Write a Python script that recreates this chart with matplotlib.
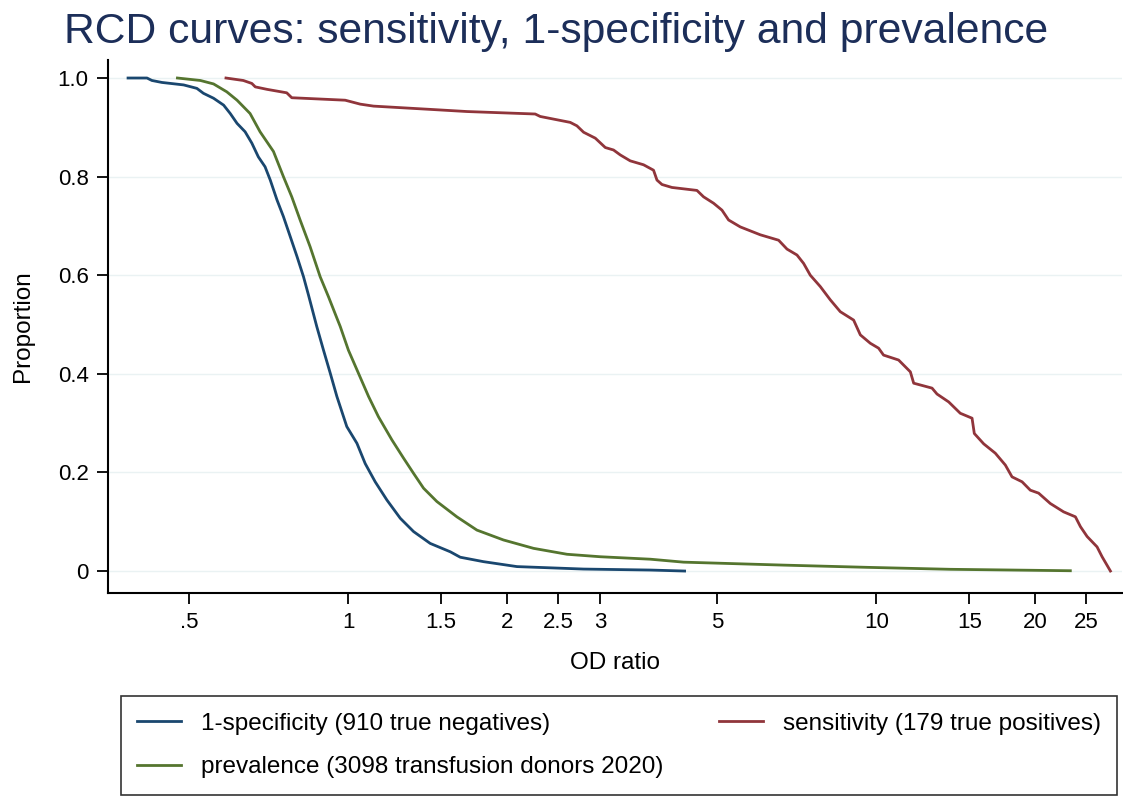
import matplotlib
matplotlib.use("Agg")
import matplotlib.pyplot as plt
from matplotlib.ticker import FixedLocator, FixedFormatter, NullLocator

plt.rcParams['font.family'] = ['Liberation Sans', 'DejaVu Sans']

# 1-specificity (910 true negatives)
spec_x = [0.383, 0.416, 0.425, 0.444, 0.488, 0.517, 0.532, 0.556, 0.581, 0.598,
          0.616, 0.638, 0.657, 0.676, 0.696, 0.712, 0.733, 0.754, 0.777, 0.800,
          0.823, 0.841, 0.872, 0.898, 0.925, 0.952, 0.994, 1.039, 1.077, 1.125,
          1.184, 1.255, 1.330, 1.430, 1.561, 1.630, 1.804, 2.087, 2.791, 3.733, 4.335]
spec_y = [1.000, 1.000, 0.995, 0.991, 0.986, 0.979, 0.969, 0.959, 0.945, 0.928,
          0.908, 0.891, 0.868, 0.840, 0.820, 0.793, 0.753, 0.719, 0.678, 0.638,
          0.597, 0.560, 0.496, 0.448, 0.401, 0.354, 0.293, 0.259, 0.218, 0.181,
          0.144, 0.107, 0.080, 0.056, 0.039, 0.028, 0.019, 0.009, 0.004, 0.002, 0.000]

# prevalence (3098 transfusion donors 2020)
prev_x = [0.475, 0.525, 0.556, 0.589, 0.616, 0.652, 0.681, 0.722, 0.754, 0.782,
          0.811, 0.847, 0.885, 0.918, 0.952, 0.966, 1.001, 1.046, 1.093, 1.141,
          1.210, 1.273, 1.330, 1.389, 1.472, 1.606, 1.753, 1.968, 2.244, 2.596,
          3.000, 3.733, 4.315, 6.674, 9.602, 13.81, 23.3]
prev_y = [1.000, 0.995, 0.988, 0.972, 0.955, 0.928, 0.891, 0.851, 0.800, 0.759,
          0.712, 0.658, 0.597, 0.556, 0.513, 0.496, 0.448, 0.401, 0.354, 0.313,
          0.266, 0.229, 0.198, 0.168, 0.141, 0.110, 0.083, 0.063, 0.046, 0.034,
          0.029, 0.024, 0.018, 0.012, 0.0075, 0.0035, 0.0006]

# sensitivity (179 true positives)
sens_x = [0.587, 0.633, 0.657, 0.667, 0.702, 0.765, 0.782, 0.987, 1.054, 1.117,
          1.450, 1.679, 2.260, 2.310, 2.633, 2.711, 2.791, 2.937, 3.068, 3.180,
          3.275, 3.420, 3.625, 3.786, 3.843, 3.928, 4.103, 4.575, 4.709, 4.919,
          5.102, 5.252, 5.526, 6.030, 6.531, 6.775, 7.076, 7.283, 7.499, 7.833,
          8.183, 8.547, 9.058, 9.327, 9.741, 10.10, 10.32, 11.02, 11.60, 11.77,
          12.75, 13.03, 13.71, 14.42, 15.18, 15.33, 15.97, 16.80, 17.55, 18.07,
          18.88, 19.57, 20.29, 21.35, 22.63, 23.82, 24.35, 25.07, 26.18, 26.76, 27.75]
sens_y = [1.000, 0.995, 0.989, 0.982, 0.977, 0.970, 0.960, 0.955, 0.947, 0.943,
          0.936, 0.932, 0.927, 0.922, 0.910, 0.903, 0.890, 0.878, 0.859, 0.854,
          0.844, 0.832, 0.824, 0.813, 0.793, 0.784, 0.778, 0.772, 0.759, 0.746,
          0.732, 0.712, 0.698, 0.682, 0.671, 0.653, 0.641, 0.624, 0.600, 0.577,
          0.550, 0.526, 0.509, 0.479, 0.462, 0.452, 0.438, 0.428, 0.404, 0.381,
          0.371, 0.359, 0.343, 0.320, 0.310, 0.279, 0.258, 0.239, 0.215, 0.191,
          0.181, 0.164, 0.158, 0.137, 0.120, 0.110, 0.090, 0.070, 0.049, 0.029, 0.000]

xticks = [0.5, 1, 1.5, 2, 2.5, 3, 5, 10, 15, 20, 25]
xtick_labels = ['.5', '1', '1.5', '2', '2.5', '3', '5', '10', '15', '20', '25']
yticks = [0, 0.2, 0.4, 0.6, 0.8, 1.0]
ytick_labels = ['0', '0.2', '0.4', '0.6', '0.8', '1.0']

fig = plt.figure(figsize=(11.23, 7.96), dpi=100)
ax = fig.add_axes([0.0962, 0.255, 0.903, 0.6696])

l1, = ax.plot(spec_x, spec_y, color='#1a476f', lw=2, label='1-specificity (910 true negatives)')
l2, = ax.plot(sens_x, sens_y, color='#90353b', lw=2, label='sensitivity (179 true positives)')
l3, = ax.plot(prev_x, prev_y, color='#55752f', lw=2, label='prevalence (3098 transfusion donors 2020)')

ax.set_xscale('log')
ax.set_xlim(0.351, 29.2)
ax.set_ylim(-0.0446, 1.0365)
ax.xaxis.set_major_locator(FixedLocator(xticks))
ax.xaxis.set_major_formatter(FixedFormatter(xtick_labels))
ax.xaxis.set_minor_locator(NullLocator())
ax.set_yticks(yticks)
ax.set_yticklabels(ytick_labels)

ax.grid(axis='y', color='#eaf2f3', lw=1)
ax.set_axisbelow(True)
for s in ['top', 'right']:
    ax.spines[s].set_visible(False)
for s in ['left', 'bottom']:
    ax.spines[s].set_linewidth(1.5)
ax.tick_params(length=8, width=1.3, labelsize=16, pad=6)

ax.set_xlabel('OD ratio', fontsize=17.5, labelpad=13)
ax.set_ylabel('Proportion', fontsize=17.5, labelpad=17)

fig.suptitle('RCD curves: sensitivity, 1-specificity and prevalence',
             fontsize=30.7, color='#1c2e59', x=0.495, y=0.985)

fig.legend(handles=[l1, l3, l2], loc='lower left', ncol=2, mode='expand',
           bbox_to_anchor=(0.1077, 0.00126, 0.887, 0.1244), fontsize=17.5,
           frameon=True, fancybox=False, edgecolor='black', handlelength=1.8,
           handletextpad=0.8, borderaxespad=0, borderpad=0.68, labelspacing=0.9)
fig.legends[0].get_frame().set_linewidth(1.2)

fig.savefig('out.png', dpi=100)
